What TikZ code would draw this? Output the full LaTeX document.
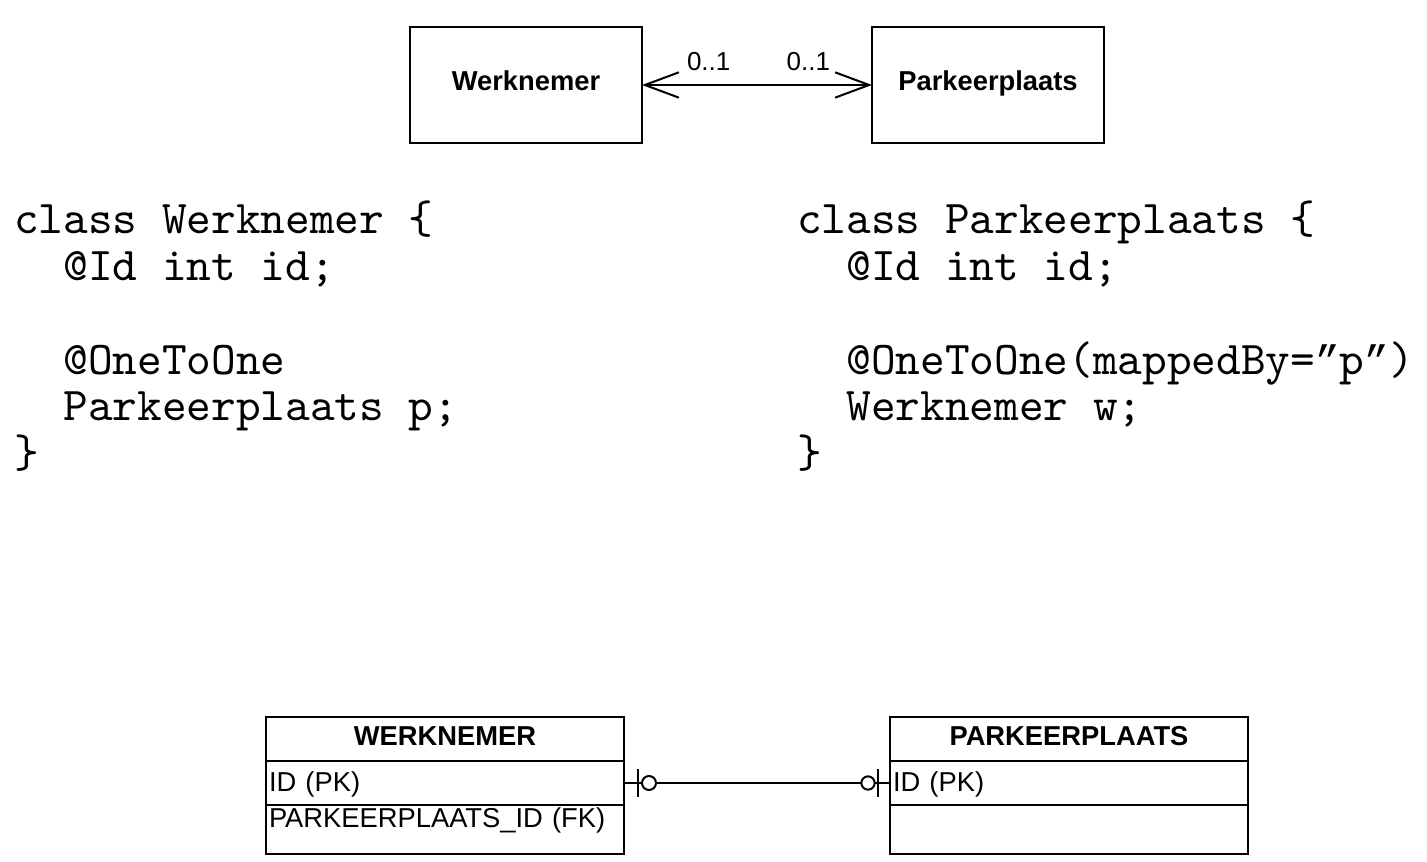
\documentclass[tikz,border=0pt]{standalone}
\usepackage{fontspec}
\newfontfamily\sansfont{Liberation Sans}
\newfontfamily\monofont{lmmono10-regular.otf}
\newfontfamily\quotefont{Liberation Mono}
\usetikzlibrary{positioning,calc,arrows.meta}
\newcommand\codeind{\hphantom{xx}}
\newcommand\codeqt{{\quotefont\fontsize{30.84}{40}\selectfont ”}}

\begin{document}
\begin{tikzpicture}[x=0.75pt,y=-0.75pt,
    line width=1.5pt,
    every node/.style={outer sep=0pt},
    classbox/.style={draw, minimum width=174pt, minimum height=87pt,
                     text height=15pt, text depth=6pt,
                     font=\sansfont\bfseries\fontsize{20.5}{24}\selectfont},
    mult/.style={inner sep=0pt, font=\sansfont\fontsize{19.5}{23}\selectfont},
    code/.style={inner sep=0pt, anchor=base west,
                 font=\monofont\fontsize{35.25}{40}\selectfont},
    tabrow/.style={draw, inner xsep=2.25pt, inner ysep=0pt, text width=264pt,
                   align=left, font=\sansfont\fontsize{20.5}{24}\selectfont},
    tabhead/.style={tabrow, align=center, text height=21pt, text depth=12pt,
                    font=\sansfont\bfseries\fontsize{20.5}{24}\selectfont},
    tabkey/.style={tabrow, text height=22.5pt, text depth=10.5pt},
    tablast/.style={tabrow, text height=16.5pt, text depth=20.25pt}]

\useasboundingbox (0,0) rectangle (1427,862);

% UML classes
\node[classbox] (uw) at (526,85) {Werknemer};
\node[classbox, right=172.5pt of uw] (up) {Parkeerplaats};
\draw[{Straight Barb[length=25.5pt,width=19pt]}-{Straight Barb[length=25.5pt,width=19pt]}]
    (uw) -- (up);
\node[mult, anchor=base west] (m1) at ($(uw.east)+(45,-14)$) {0..1};
\node[mult, anchor=base east] (m2) at ($(up.west)+(-42,-14)$) {0..1};

% Java code
\foreach \line [count=\i] in {class Werknemer \{, \codeind @Id int id;, ,
    \codeind @OneToOne, \codeind Parkeerplaats p;, \}}
  \node[code] (wc\i) at (14,{234+46.7*(\i-1)}) {\line};
\foreach \line [count=\i] in {class Parkeerplaats \{, \codeind @Id int id;, ,
    \codeind @OneToOne(mappedBy=\codeqt p\codeqt), \codeind Werknemer w;, \}}
  \node[code] (pc\i) at (797,{234+46.7*(\i-1)}) {\line};

% tables
\node[tabhead] (wt) at (445,739) {WERKNEMER};
\node[tabkey, below=0pt of wt] (wid) {ID (PK)};
\node[tablast, below=0pt of wid] (wfk) {PARKEERPLAATS\_ID (FK)};

\node[tabhead] (pt) at (1069,739) {PARKEERPLAATS};
\node[tabkey, below=0pt of pt] (pid) {ID (PK)};
\node[tablast, below=0pt of pid] (pfk) {};

% zero or one on both sides
\draw (wid.east) -- (pid.west);
\draw ($(wid.east)+(14,-14)$) -- ++(0,28);
\draw[fill=white] ($(wid.east)+(25,0)$) circle (5.25pt);
\draw[fill=white] ($(pid.west)+(-22,0)$) circle (5pt);
\draw ($(pid.west)+(-12,-14)$) -- ++(0,28);

\end{tikzpicture}
\end{document}
